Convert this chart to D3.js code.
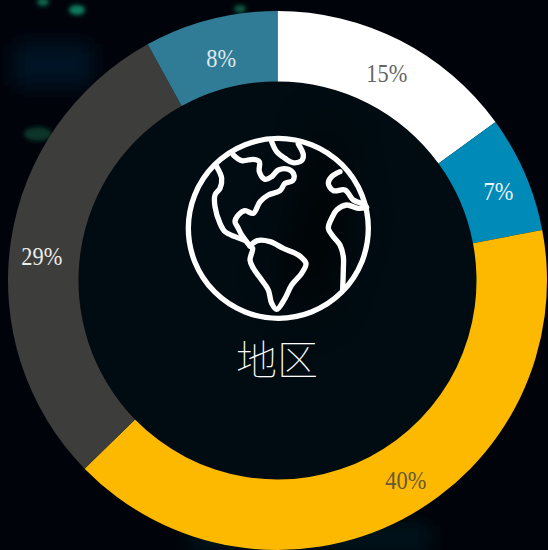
<!DOCTYPE html>
<html><head><meta charset="utf-8">
<script src="https://cdn.jsdelivr.net/npm/d3@7"></script>
<style>html,body{margin:0;padding:0;background:#00040a;overflow:hidden}svg{display:block}</style>
</head><body><svg id="c" width="548" height="550"></svg>
<script>
const values = [15, 7, 40.7, 29.3, 8];
const labels = ["15%", "7%", "40%", "29%", "8%"];
const sliceColors = ["#ffffff", "#008ab7", "#fdb900", "#3d3d3b", "#307c97"];
const labelColors = ["#666666", "#eef5f8", "#66583a", "#ececec", "#dfe9ed"];
const title = "地区";

const W = 548, H = 550, cx = 277.5, cy = 280.5, rO = 269.5, rI = 199;
const svg = d3.select("#c");
const defs = svg.append("defs");
const blur = (id, s) => defs.append("filter").attr("id", id)
  .attr("x", "-100%").attr("y", "-100%").attr("width", "300%").attr("height", "300%")
  .append("feGaussianBlur").attr("stdDeviation", s);
blur("b2", 2); blur("b10", 10); blur("b20", 20);

// dark photo-like backdrop
svg.append("rect").attr("width", W).attr("height", H).attr("fill", "#00040a");
const bg = svg.append("g");
[[77,10,8,5,"#0f7f5f"],[43,2,6,4,"#0d6a4f"],[240,9,6,4,"#0a5a42"],[38,134,14,7,"#08362a"]].forEach(d =>
  bg.append("ellipse").attr("cx", d[0]).attr("cy", d[1]).attr("rx", d[2]).attr("ry", d[3])
    .attr("fill", d[4]).attr("filter", "url(#b2)"));
bg.append("rect").attr("x", 14).attr("y", 44).attr("width", 78).attr("height", 42)
  .attr("fill", "#02203c").attr("opacity", .55).attr("filter", "url(#b10)");
bg.append("rect").attr("x", 190).attr("y", 525).attr("width", 240).attr("height", 25)
  .attr("fill", "#02232b").attr("opacity", .6).attr("filter", "url(#b10)");

const g = svg.append("g").attr("transform", `translate(${cx},${cy})`);
// inner disc
g.append("circle").attr("r", rI).attr("fill", "#000c12");
g.append("path").attr("d", "M50,-175L75,-60L40,40L0,0Z").attr("fill", "#000305").attr("opacity", .7).attr("filter", "url(#b20)");

const pie = d3.pie().value(d => d).sort(null);
const arc = d3.arc().innerRadius(rI).outerRadius(rO);
const arcs = pie(values);
g.selectAll("path.s").data(arcs).join("path").attr("class", "s")
  .attr("d", arc).attr("fill", (d, i) => sliceColors[i]);

// labels: centroid plus hand-placed offset, as in the reference
const nudge = [[3, 1], [6, 3], [20, -8], [-4, 10], [2, 4]];
g.selectAll("text.l").data(arcs).join("text").attr("class", "l")
  .attr("transform", (d, i) => {
    const c = arc.centroid(d);
    return `translate(${c[0] + nudge[i][0]},${c[1] + nudge[i][1]}) scale(0.86,1)`;
  })
  .attr("text-anchor", "middle").attr("dominant-baseline", "central")
  .attr("font-family", "'Liberation Serif',serif").attr("font-size", 26)
  .attr("fill", (d, i) => labelColors[i]).text((d, i) => labels[i]);

// globe icon
const icon = svg.append("g").attr("transform", "translate(170,120) scale(0.3333)")
  .attr("fill", "none").attr("stroke", "#fff").attr("stroke-width", 16)
  .attr("stroke-linecap", "round").attr("stroke-linejoin", "round");
icon.append("circle").attr("cx", 325).attr("cy", 325).attr("r", 270);
const line = d3.line().curve(d3.curveCatmullRom.alpha(0.5));
const shapes = [
  [[305,65],[320,95],[345,115],[368,128],[395,122],[400,105],[385,72]],
  [[190,105],[215,122],[250,118],[268,125],[268,155],[285,178],[305,170],[325,150],[355,148],[372,165],[368,182],[345,190],[330,212],[295,225],[270,245],[250,280],[225,272],[205,285],[195,305],[205,325],[215,345],[240,378]],
  [[140,140],[155,175],[150,205],[135,225],[135,260],[150,310],[165,335],[195,350],[222,360]],
  [[240,378],[262,362],[300,365],[340,385],[385,405],[408,430],[395,460],[365,495],[345,535],[320,568],[305,550],[295,510],[275,480],[250,445],[240,420],[248,385],[240,378]],
  [[510,155],[485,170],[475,190],[490,212],[525,210],[550,240],[575,250]],
  [[590,262],[565,265],[530,255],[500,270],[485,295],[475,325],[490,350],[510,375],[520,410],[520,450],[518,510]]
];
icon.selectAll("path").data(shapes).join("path").attr("d", line);

svg.append("text").attr("x", 277).attr("y", 361).attr("text-anchor", "middle")
  .attr("dominant-baseline", "central").attr("font-size", 41).attr("fill", "#ffffff")
  .attr("font-family", "'Liberation Serif','Noto Sans CJK SC',serif").attr("font-weight", 100).text(title);
</script></body></html>
